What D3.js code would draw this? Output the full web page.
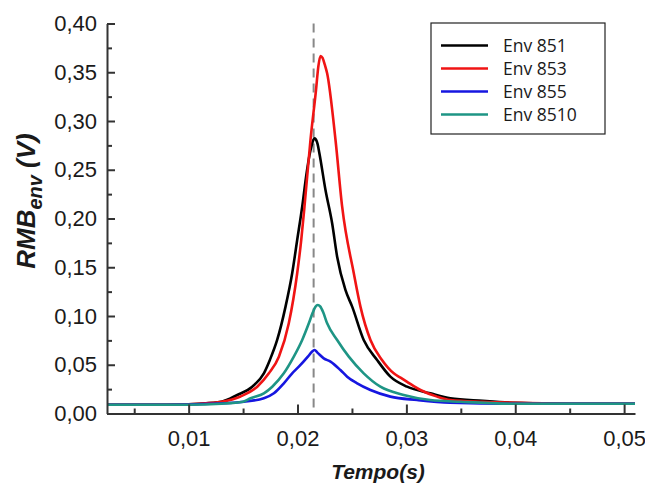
<!DOCTYPE html>
<html>
<head>
<meta charset="utf-8">
<script src="https://cdn.jsdelivr.net/npm/d3@7"></script>
<style>
  body { margin: 0; background: #fff; }
  svg { display: block; font-family: "Liberation Sans", Arial, sans-serif; }
  .tick text { font-size: 22px; fill: #1a1a1a; }
</style>
</head>
<body>
<div id="chart"></div>
<script>
// series: [tempo (s), RMB env (V)]
var env851 = [
  [0.0025, 0.009], [0.0080, 0.009], [0.0110, 0.010], [0.0130, 0.012],
  [0.01446, 0.019], [0.01584, 0.0275], [0.01691, 0.0412], [0.01746, 0.0549],
  [0.01813, 0.0754], [0.01890, 0.1096], [0.01951, 0.1438], [0.01997, 0.1779],
  [0.02043, 0.2121], [0.02083, 0.2463], [0.02110, 0.2650], [0.02130, 0.2750],
  [0.02145, 0.2805], [0.02158, 0.2822], [0.02170, 0.2808], [0.02184, 0.2765],
  [0.02200, 0.2675], [0.02257, 0.2292], [0.02318, 0.1951], [0.02364, 0.1608],
  [0.02440, 0.1267], [0.02502, 0.1096], [0.02608, 0.0754], [0.02731, 0.0549],
  [0.02853, 0.0378], [0.03006, 0.0275], [0.03220, 0.0207], [0.03404, 0.0156],
  [0.0370, 0.013], [0.0400, 0.011], [0.0450, 0.010], [0.0510, 0.010]
];
var env853 = [
  [0.0025, 0.009], [0.0080, 0.009], [0.0110, 0.010], [0.0130, 0.012],
  [0.01477, 0.0175], [0.01630, 0.0275], [0.01737, 0.0412], [0.01829, 0.0583],
  [0.01920, 0.0925], [0.01997, 0.1438], [0.02034, 0.1779], [0.02064, 0.2121],
  [0.02119, 0.2805], [0.02170, 0.3320], [0.02192, 0.3565], [0.02211, 0.3667],
  [0.02230, 0.3648], [0.02250, 0.3580], [0.02272, 0.3489], [0.02349, 0.2805],
  [0.02410, 0.2121], [0.02517, 0.1438], [0.02578, 0.1096], [0.02670, 0.0754],
  [0.02776, 0.0549], [0.02884, 0.0412], [0.02950, 0.0365], [0.03000, 0.0330],
  [0.03129, 0.0241], [0.03282, 0.0173], [0.03404, 0.0138], [0.0370, 0.012],
  [0.0400, 0.011], [0.0450, 0.010], [0.0510, 0.010]
];
var env855 = [
  [0.0025, 0.009], [0.0080, 0.009], [0.0120, 0.010], [0.01508, 0.0121],
  [0.01691, 0.0156], [0.01783, 0.0207], [0.01874, 0.0309], [0.01951, 0.0412],
  [0.02012, 0.0480], [0.02095, 0.0583], [0.02130, 0.0630], [0.02156, 0.0651],
  [0.02185, 0.0622], [0.02241, 0.0566], [0.02303, 0.0532], [0.02394, 0.0446],
  [0.02456, 0.0378], [0.02548, 0.0309], [0.02670, 0.0241], [0.02853, 0.0173],
  [0.03098, 0.0138], [0.0340, 0.011], [0.0400, 0.010], [0.0510, 0.010]
];
var env8510 = [
  [0.0025, 0.009], [0.0100, 0.009], [0.0130, 0.010], [0.0150, 0.012],
  [0.01569, 0.0156], [0.01691, 0.0207], [0.01768, 0.0275], [0.01874, 0.0412],
  [0.01966, 0.0583], [0.02043, 0.0754], [0.02104, 0.0925], [0.02140, 0.1035],
  [0.02165, 0.1095], [0.02186, 0.1113], [0.02208, 0.1098], [0.02235, 0.1040],
  [0.02272, 0.0925], [0.02364, 0.0754], [0.02471, 0.0583], [0.02608, 0.0412],
  [0.02761, 0.0275], [0.02975, 0.0190], [0.03220, 0.0138], [0.0350, 0.012],
  [0.0400, 0.010], [0.0450, 0.010], [0.0510, 0.010]
];
var seriesNames = ["Env 851", "Env 853", "Env 855", "Env 8510"];
var xTicks = [0.01, 0.02, 0.03, 0.04, 0.05];
var xMinorTicks = [0.005, 0.015, 0.025, 0.035, 0.045];
var yTicks = [0, 0.05, 0.10, 0.15, 0.20, 0.25, 0.30, 0.35, 0.40];
var yMinorTicks = [0.025, 0.075, 0.125, 0.175, 0.225, 0.275, 0.325, 0.375];
var markerTime = 0.02148;

var allSeries = [env851, env853, env855, env8510];
var colors = ["#000000", "#f01414", "#1616e0", "#1e9585"];

var W = 645, H = 483;
var margin = {left: 107, top: 23.5, right: 10, bottom: 69.5};
var w = W - margin.left - margin.right, h = H - margin.top - margin.bottom;

var svg = d3.select("#chart").append("svg")
  .attr("width", W)
  .attr("height", H);
var g = svg.append("g").attr("transform", "translate(" + margin.left + "," + margin.top + ")");

var x = d3.scaleLinear().domain([0.0025, 0.051]).range([0, w]);
var y = d3.scaleLinear().domain([0, 0.40]).range([h, 0]);

var comma = function(d) { return d3.format(".2f")(d).replace(".", ","); };

// dashed marker at the peak time
g.append("line")
  .attr("x1", x(markerTime)).attr("x2", x(markerTime))
  .attr("y1", y(0.40)).attr("y2", y(0))
  .style("stroke", "#888")
  .style("stroke-width", 2)
  .style("stroke-dasharray", "9,6");

var line = d3.line()
  .x(function(d) { return x(d[0]); })
  .y(function(d) { return y(d[1]); })
  .curve(d3.curveMonotoneX);

g.selectAll("path.serie")
  .data(allSeries)
  .enter()
  .append("path")
    .attr("class", "serie")
    .attr("d", line)
    .style("fill", "none")
    .style("stroke", function(d, i) { return colors[i]; })
    .style("stroke-width", 2.6)
    .style("stroke-linejoin", "round");

// axes, ticks pointing inside like the original
var xAxis = g.append("g").attr("transform", "translate(0," + h + ")")
  .call(d3.axisBottom(x).tickValues(xTicks).tickFormat(comma).tickSizeInner(-9).tickSizeOuter(0).tickPadding(17));
var xMinor = g.append("g").attr("transform", "translate(0," + h + ")")
  .call(d3.axisBottom(x).tickValues(xMinorTicks).tickFormat("").tickSizeInner(-5).tickSizeOuter(0));
var yAxis = g.append("g")
  .call(d3.axisLeft(y).tickValues(yTicks).tickFormat(comma).tickSizeInner(-8).tickSizeOuter(0).tickPadding(10));
var yMinor = g.append("g")
  .call(d3.axisLeft(y).tickValues(yMinorTicks).tickFormat("").tickSizeInner(-5).tickSizeOuter(0));

[xAxis, xMinor, yAxis, yMinor].forEach(function(a) {
  a.select(".domain").style("stroke", "#333").style("stroke-width", 2);
  a.selectAll(".tick line").style("stroke", "#333").style("stroke-width", 2);
});
xMinor.select(".domain").remove();
yMinor.select(".domain").remove();

// legend
var legend = svg.append("g").attr("transform", "translate(431,23)");
legend.append("rect")
  .attr("width", 174).attr("height", 111)
  .style("fill", "#fff").style("stroke", "#222").style("stroke-width", 1.2);
var item = legend.selectAll("g.item")
  .data(seriesNames)
  .enter()
  .append("g")
    .attr("class", "item")
    .attr("transform", function(d, i) { return "translate(0," + (22.5 + i * 23) + ")"; });
item.append("line")
  .attr("x1", 10).attr("x2", 57)
  .style("stroke", function(d, i) { return colors[i]; })
  .style("stroke-width", 2.6);
item.append("text")
  .attr("x", 72).attr("dy", "0.35em")
  .style("font-family", "'Open Sans', sans-serif")
  .style("font-size", "17.5px")
  .style("fill", "#1a1a1a")
  .text(function(d) { return d; });

// axis titles
svg.append("text")
  .attr("x", 378).attr("y", 479)
  .attr("text-anchor", "middle")
  .style("font-size", "21px").style("font-weight", "bold").style("font-style", "italic")
  .style("fill", "#1a1a1a")
  .text("Tempo(s)");

var yt = svg.append("text")
  .attr("transform", "translate(35,201) rotate(-90)")
  .attr("text-anchor", "middle")
  .style("font-size", "26px").style("font-weight", "bold").style("font-style", "italic")
  .style("fill", "#1a1a1a");
yt.append("tspan").text("RMB");
yt.append("tspan").attr("dy", 7).style("font-size", "20px").text("env");
yt.append("tspan").attr("dy", -7).text(" (V)");
</script>
</body>
</html>
